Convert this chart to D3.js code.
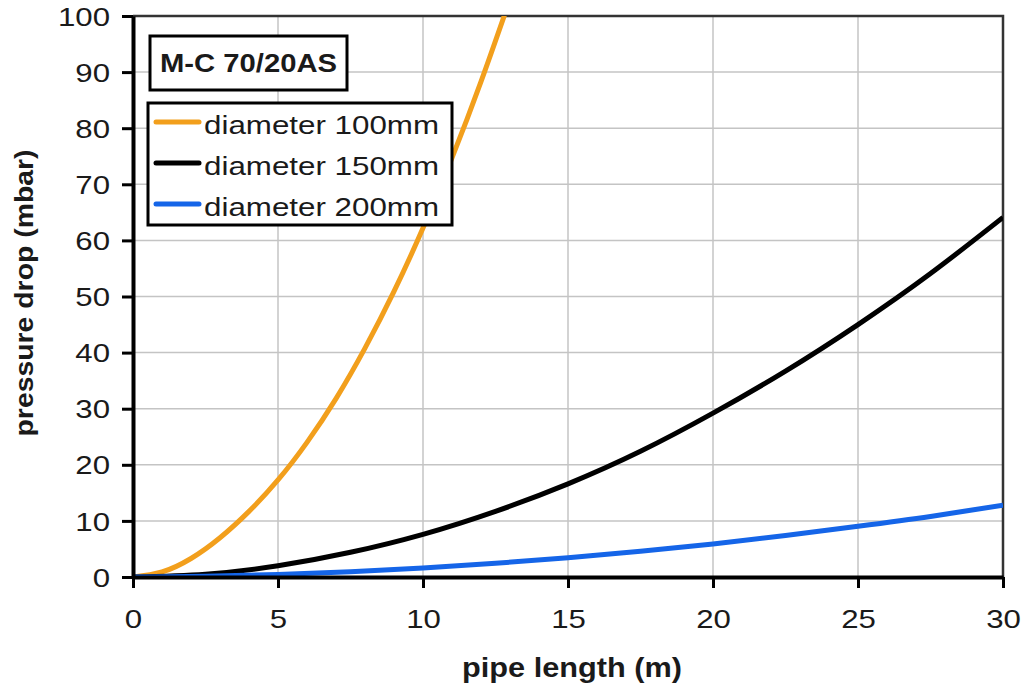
<!DOCTYPE html>
<html>
<head>
<meta charset="utf-8">
<script src="https://cdn.jsdelivr.net/npm/d3@7"></script>
<style>
  body { margin: 0; background: #fff; }
  text { font-family: "Liberation Sans", Arial, sans-serif; fill: #1a1a1a; }
</style>
</head>
<body>
<script>
// pressure drop vs pipe length
var lengths100 = [0, 1, 2, 3, 4, 5, 6, 7, 8, 9, 10, 11, 12, 13];
var drop100    = [0, 0.9, 3.3, 7.0, 11.7, 17.3, 24.0, 31.8, 40.8, 50.9, 62.2, 74.7, 88.3, 103.0];

var lengths150 = [0, 2.5, 5, 7.5, 10, 12.5, 15, 17.5, 20, 22.5, 25, 27.5, 30];
var drop150    = [0, 0.5, 2.0, 4.4, 7.6, 11.7, 16.6, 22.4, 29.2, 36.7, 45.0, 54.1, 64.1];

var lengths200 = [0, 2.5, 5, 7.5, 10, 12.5, 15, 17.5, 20, 22.5, 25, 27.5, 30];
var drop200    = [0, 0.12, 0.45, 0.95, 1.6, 2.45, 3.45, 4.6, 5.9, 7.4, 9.05, 10.8, 12.8];

var seriesNames = ["diameter 100mm", "diameter 150mm", "diameter 200mm"];
var seriesColors = ["#f29f1c", "#000000", "#1565e8"];
var xTicks = [0, 5, 10, 15, 20, 25, 30];
var yTicks = [0, 10, 20, 30, 40, 50, 60, 70, 80, 90, 100];
var chartTitle = "M-C 70/20AS";

// note: "top" is a reserved window property, so plot edges get their own names
var width = 1029,
    height = 688,
    plotLeft = 133, plotRight = 1003, plotTop = 16, plotBottom = 577,
    stretch = 1.2;

var x = d3.scaleLinear().domain([0, 30]).range([plotLeft, plotRight]);
var y = d3.scaleLinear().domain([0, 100]).range([plotBottom, plotTop]);

var svg = d3.select("body").append("svg")
    .attr("width", width)
    .attr("height", height);

svg.append("defs").append("clipPath").attr("id", "plot")
    .append("rect")
    .attr("x", plotLeft).attr("y", plotTop)
    .attr("width", plotRight - plotLeft).attr("height", plotBottom - plotTop);

// grid lines
svg.append("g")
    .selectAll("line")
    .data(xTicks.slice(1, -1))
    .enter().append("line")
    .attr("x1", d => x(d)).attr("x2", d => x(d))
    .attr("y1", plotTop).attr("y2", plotBottom)
    .attr("stroke", "#c4c4c4").attr("stroke-width", 1.5);

svg.append("g")
    .selectAll("line")
    .data(yTicks.slice(1, -1))
    .enter().append("line")
    .attr("y1", d => y(d)).attr("y2", d => y(d))
    .attr("x1", plotLeft).attr("x2", plotRight)
    .attr("stroke", "#c4c4c4").attr("stroke-width", 1.5);

// top and right frame
svg.append("path")
    .attr("d", "M" + plotLeft + "," + plotTop + "H" + plotRight + "V" + plotBottom)
    .attr("fill", "none")
    .attr("stroke", "#333")
    .attr("stroke-width", 2.5);

// curves
var series = [
    d3.zip(lengths100, drop100),
    d3.zip(lengths150, drop150),
    d3.zip(lengths200, drop200)
];

var line = d3.line()
    .x(d => x(d[0]))
    .y(d => y(d[1]))
    .curve(d3.curveNatural);

svg.append("g")
    .attr("clip-path", "url(#plot)")
    .selectAll("path")
    .data(series)
    .enter().append("path")
    .attr("d", line)
    .attr("fill", "none")
    .attr("stroke", (d, i) => seriesColors[i])
    .attr("stroke-width", 5)
    .attr("stroke-linejoin", "round");

// axes
var yAxis = svg.append("g")
    .attr("transform", "translate(" + plotLeft + ",0)")
    .call(d3.axisLeft(y).tickValues(yTicks).tickSize(11).tickSizeOuter(0));

yAxis.select(".domain").attr("stroke", "#000").attr("stroke-width", 4);
yAxis.selectAll(".tick line").attr("stroke", "#000").attr("stroke-width", 3);
yAxis.selectAll(".tick text")
    .attr("x", 0).attr("dy", "0.35em")
    .attr("transform", "translate(-23,0) scale(" + stretch + ",1)")
    .attr("fill", "#1a1a1a")
    .style("font-size", "26px");

var xAxis = svg.append("g")
    .attr("transform", "translate(0," + plotBottom + ")")
    .call(d3.axisBottom(x).tickValues(xTicks).tickSize(11).tickSizeOuter(0));

xAxis.select(".domain").attr("stroke", "#000").attr("stroke-width", 4);
xAxis.selectAll(".tick line").attr("stroke", "#000").attr("stroke-width", 3);
xAxis.selectAll(".tick text")
    .attr("y", 0).attr("dy", 0)
    .attr("transform", "translate(0,51) scale(" + stretch + ",1)")
    .attr("fill", "#1a1a1a")
    .style("font-size", "26px");

// axis titles
svg.append("text")
    .attr("x", 572).attr("y", 677)
    .attr("text-anchor", "middle")
    .attr("textLength", 220).attr("lengthAdjust", "spacingAndGlyphs")
    .style("font-size", "27px").style("font-weight", "bold")
    .text("pipe length (m)");

svg.append("text")
    .attr("transform", "translate(33,293) rotate(-90)")
    .attr("text-anchor", "middle")
    .attr("textLength", 287).attr("lengthAdjust", "spacingAndGlyphs")
    .style("font-size", "26px").style("font-weight", "bold")
    .text("pressure drop (mbar)");

// title box
svg.append("rect")
    .attr("x", 150).attr("y", 36)
    .attr("width", 197).attr("height", 54)
    .attr("fill", "#fff").attr("stroke", "#000").attr("stroke-width", 3);

svg.append("text")
    .attr("x", 160).attr("y", 72)
    .attr("textLength", 177).attr("lengthAdjust", "spacingAndGlyphs")
    .style("font-size", "25px").style("font-weight", "bold")
    .text(chartTitle);

// legend
var legend = svg.append("g");

legend.append("rect")
    .attr("x", 148).attr("y", 103)
    .attr("width", 304).attr("height", 122)
    .attr("fill", "#fff").attr("stroke", "#000").attr("stroke-width", 3);

var items = legend.selectAll("g.item")
    .data(seriesNames)
    .enter().append("g")
    .attr("class", "item")
    .attr("transform", (d, i) => "translate(0," + (i * 41) + ")");

items.append("line")
    .attr("x1", 156).attr("x2", 199)
    .attr("y1", 122).attr("y2", 122)
    .attr("stroke", (d, i) => seriesColors[i])
    .attr("stroke-width", 5)
    .attr("stroke-linecap", "round");

items.append("text")
    .attr("x", 204).attr("y", 134)
    .attr("textLength", 235).attr("lengthAdjust", "spacingAndGlyphs")
    .style("font-size", "26px")
    .text(d => d);
</script>
</body>
</html>
